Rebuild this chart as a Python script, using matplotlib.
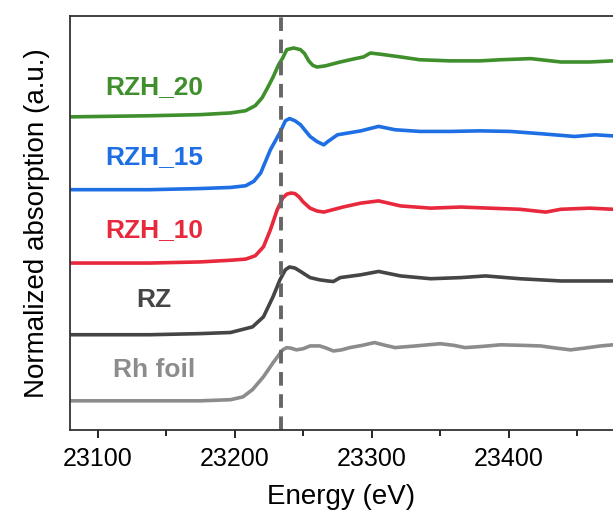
import matplotlib

matplotlib.use("Agg")
import matplotlib.pyplot as plt
from matplotlib.ticker import MultipleLocator

plt.rcParams["font.family"] = ["Liberation Sans", "DejaVu Sans"]

# normalized spectra (edge jump ~ 1)
E_RH = [23080, 23138, 23175, 23197, 23206, 23213, 23221, 23228, 23235, 23238, 23241, 23245, 23250, 23255,
        23262, 23267, 23272, 23278, 23284, 23293, 23302, 23310, 23317, 23332, 23350, 23360, 23368, 23380,
        23394, 23410, 23423, 23435, 23445, 23455, 23467, 23476]
MU_RH = [0.00, 0.00, 0.00, 0.02, 0.07, 0.20, 0.43, 0.68, 0.91, 0.95, 0.94, 0.91, 0.93, 0.98,
         0.98, 0.94, 0.89, 0.91, 0.95, 0.99, 1.04, 0.99, 0.95, 0.98, 1.02, 0.99, 0.95, 0.97,
         1.00, 0.99, 0.98, 0.94, 0.91, 0.94, 0.98, 1.00]

E_RZ = [23080, 23138, 23175, 23197, 23213, 23221, 23228, 23233, 23237, 23240, 23244, 23248, 23255,
        23262, 23268, 23272, 23277, 23292, 23305, 23321, 23343, 23365, 23383, 23408, 23438, 23476]
MU_RZ = [0.00, 0.00, 0.02, 0.04, 0.14, 0.32, 0.68, 0.98, 1.16, 1.21, 1.19, 1.13, 1.02,
         0.98, 0.96, 0.95, 1.02, 1.07, 1.13, 1.05, 1.00, 1.02, 1.05, 1.00, 0.96, 0.96]

E_10 = [23080, 23138, 23175, 23197, 23208, 23215, 23221, 23226, 23231, 23235, 23238, 23241, 23244,
        23247, 23250, 23255, 23260, 23265, 23279, 23292, 23305, 23321, 23343, 23365, 23386, 23408, 23427,
        23438, 23459, 23476]
MU_10 = [0.00, 0.00, 0.02, 0.05, 0.07, 0.13, 0.29, 0.59, 0.95, 1.16, 1.23, 1.25, 1.24,
         1.18, 1.09, 0.98, 0.93, 0.91, 1.00, 1.07, 1.11, 1.02, 0.98, 1.00, 0.98, 0.96, 0.91,
         0.96, 0.98, 0.96]

E_15 = [23080, 23138, 23175, 23197, 23208, 23214, 23219, 23226, 23233, 23237, 23240, 23244, 23248,
        23255, 23260, 23265, 23268, 23275, 23292, 23305, 23317, 23335, 23357, 23379, 23401,
        23423, 23448, 23463, 23476]
MU_15 = [0.00, 0.00, 0.02, 0.04, 0.07, 0.15, 0.30, 0.71, 1.02, 1.23, 1.27, 1.23, 1.16,
         0.95, 0.86, 0.80, 0.86, 0.98, 1.05, 1.13, 1.07, 1.04, 1.04, 1.05, 1.04,
         1.00, 0.95, 0.98, 0.96]

E_20 = [23080, 23138, 23175, 23197, 23208, 23215, 23220, 23224, 23228, 23232, 23235, 23238,
        23243, 23248, 23251, 23254, 23257, 23260, 23266, 23277, 23288, 23294, 23299, 23306,
        23321, 23335, 23357, 23379, 23394, 23416, 23438, 23459, 23476]
MU_20 = [0.00, 0.02, 0.04, 0.07, 0.11, 0.20, 0.34, 0.52, 0.71, 0.93, 1.05, 1.20,
         1.23, 1.20, 1.13, 1.00, 0.92, 0.89, 0.91, 0.98, 1.04, 1.07, 1.14, 1.12,
         1.07, 1.02, 1.00, 1.00, 1.02, 1.04, 0.98, 0.98, 1.00]

SAMPLES = ["Rh foil", "RZ", "RZH_10", "RZH_15", "RZH_20"]
ENERGIES = [E_RH, E_RZ, E_10, E_15, E_20]
SPECTRA = [MU_RH, MU_RZ, MU_10, MU_15, MU_20]
OFFSETS = [0.52, 1.70, 2.98, 4.29, 5.59]
COLORS = ["#8c8c8c", "#454545", "#e8283c", "#1d6fe3", "#3f8f2c"]
LABEL_Y = [1.07, 2.32, 3.57, 4.87, 6.12]
EDGE_E = 23234


def main() -> None:
    fig = plt.figure(figsize=(6.13, 5.18), dpi=100)
    ax = fig.add_axes([0.1134, 0.170, 0.8866, 0.799])

    for name, e, mu, off, color, ly in zip(SAMPLES, ENERGIES, SPECTRA, OFFSETS, COLORS, LABEL_Y):
        ax.plot(e, [v + off for v in mu], color=color, linewidth=2.6,
                solid_capstyle="round", solid_joinstyle="round")
        ax.text(23141, ly, name, color=color, fontsize=19, fontweight="bold", ha="center", va="center")

    ax.axvline(EDGE_E, color="#666666", linewidth=2.8, linestyle=(0, (3.5, 2.2)))

    ax.set_xlim(23079.5, 23476)
    ax.set_ylim(0, 7.39)
    ax.set_yticks([])
    ax.xaxis.set_major_locator(MultipleLocator(100))
    ax.xaxis.set_minor_locator(MultipleLocator(50))
    ax.tick_params(axis="x", which="major", direction="out", length=6, width=1.2, labelsize=18, pad=6)
    ax.tick_params(axis="x", which="minor", direction="out", length=4, width=1.2)
    ax.spines["right"].set_visible(False)
    for side in ("left", "bottom", "top"):
        ax.spines[side].set_linewidth(1.3)
        ax.spines[side].set_color("#333333")

    ax.set_xlabel("Energy (eV)", fontsize=20, labelpad=10)
    ax.set_ylabel("Normalized absorption (a.u.)", fontsize=20, labelpad=14)

    fig.savefig("out.png", dpi=100)
    plt.close(fig)


if __name__ == "__main__":
    main()
